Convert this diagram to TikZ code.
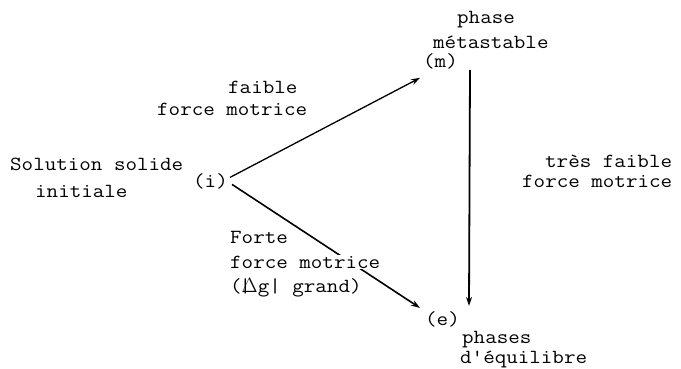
\documentclass[tikz,border=0pt]{standalone}
\usepackage{fontspec}
\newfontfamily\typew[FakeStretch=1.12]{Latin Modern Mono}
\usetikzlibrary{arrows.meta,backgrounds}

\begin{document}
\begin{tikzpicture}[x=1pt, y=-1pt,
    txt/.style={font=\typew\fontsize{20}{22}\selectfont, inner sep=0pt, anchor=base west},
    arr/.style={-{Stealth[length=9pt,width=6pt]}, line width=1.3pt}]
  \useasboundingbox (0,0) rectangle (681,368);
  % initial state
  \node[txt] (sol1) at (10,170) {Solution solide};
  \node[txt] (sol2) at (35,197) {initiale};
  \node[txt] (i) at (193,187) {(i)};
  % metastable phase
  \node[txt] (phase) at (457,23) {phase};
  \node[txt] (meta) at (433,48) {métastable};
  \node[txt] (m) at (423,67) {(m)};
  % equilibrium phases
  \node[txt] (e) at (425,325) {(e)};
  \node[txt] (phases) at (462,343) {phases};
  \node[txt] (equi) at (460,363) {d'équilibre};
  % driving forces
  \node[txt] (faible) at (228,93) {faible};
  \node[txt] (fm1) at (157,115) {force motrice};
  \node[txt] (tres) at (545,167) {très faible};
  \node[txt] (fm2) at (522,187) {force motrice};
  \node[txt] (forte) at (230,243) {Forte};
  \node[txt, fill=white, inner sep=1pt] (fm3) at (229,268) {force motrice};
  \node[txt] (dg) at (230,292) {(\rlap{\kern-2pt|}$\Delta$g| grand)};
  % transformation paths
  \begin{pgfonlayer}{background}
    \draw[arr] ([xshift=2pt,yshift=3.5pt]i.east) -- ([xshift=-3pt,yshift=-9pt]m.south west);
    \draw[arr, line width=1.8pt] ([xshift=12pt,yshift=-1pt]m.south east) -- ([xshift=9pt,yshift=5pt]e.north east);
    \draw[arr, line width=1.6pt] ([xshift=4pt,yshift=-3.5pt]i.east) -- ([xshift=-5pt,yshift=3pt]e.north west);
  \end{pgfonlayer}
\end{tikzpicture}
\end{document}
